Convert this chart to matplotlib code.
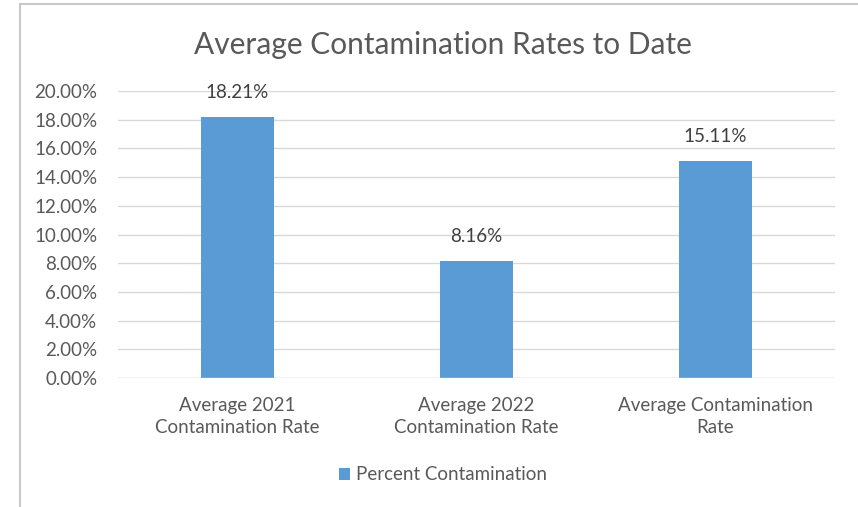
import matplotlib.pyplot as plt
from matplotlib.patches import Rectangle

categories = ['Average 2021\nContamination Rate',
              'Average 2022\nContamination Rate',
              'Average Contamination\nRate']
rates = [0.1821, 0.0816, 0.1511]
yticks = [0.00, 0.02, 0.04, 0.06, 0.08, 0.10, 0.12, 0.14, 0.16, 0.18, 0.20]

plt.rcParams['font.family'] = ['Lato', 'DejaVu Sans']
text_color = '#595959'
bar_color = '#5b9bd5'
fs = 13.5

fig = plt.figure(figsize=(8.58, 5.07), dpi=100)
ax = fig.add_axes([118 / 858, 1 - 378 / 507, 717 / 858, 287 / 507])

# outer chart frame (left and top edges visible, rest cut off)
fig.patches.append(Rectangle((20 / 858, -0.1), 1.2, 1 - 4 / 507 + 0.1,
                             transform=fig.transFigure, fill=False,
                             edgecolor='#c8c8c8', linewidth=1.5))

x = range(len(categories))
bars = ax.bar(x, rates, width=0.305, color=bar_color, zorder=3,
              label='Percent Contamination')

for b, v in zip(bars, rates):
    ax.annotate(f'{v * 100:.2f}%', (b.get_x() + b.get_width() / 2, v),
                xytext=(0, 17.5), textcoords='offset points',
                ha='center', va='center', fontsize=fs, color='#404040')

ax.set_xlim(-0.5, len(categories) - 0.5)
ax.set_ylim(0, 0.20)
ax.set_yticks(yticks)
ax.set_yticklabels([f'{t * 100:.2f}%' for t in yticks])
ax.set_xticks(list(x))
ax.set_xticklabels(categories, linespacing=1.35)
ax.tick_params(axis='both', length=0, labelsize=fs, colors=text_color)
ax.tick_params(axis='y', pad=15)
ax.tick_params(axis='x', pad=14)
ax.grid(True, axis='y', color='#d9d9d9', linewidth=1, zorder=0)
for s in ax.spines.values():
    s.set_visible(False)
ax.axhline(0, color='#d9d9d9', linewidth=1, zorder=4)

fig.text(443 / 858, 1 - 45 / 507, 'Average Contamination Rates to Date',
         ha='center', va='center', fontsize=21.5, color=text_color)

leg = fig.legend(loc='center', bbox_to_anchor=(443 / 858, 1 - 475 / 507),
                 frameon=False, fontsize=fs, handlelength=0.6,
                 handleheight=0.6, handletextpad=0.3)
for t in leg.get_texts():
    t.set_color(text_color)

fig.savefig('out.png', dpi=100)
